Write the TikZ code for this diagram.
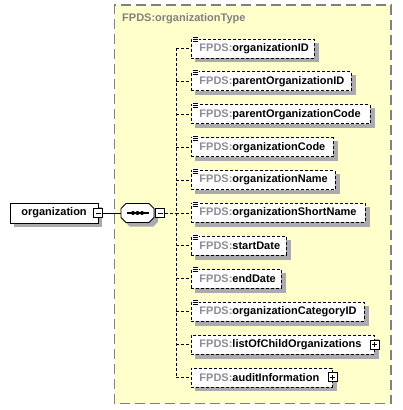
\documentclass[tikz,border=0pt]{standalone}
\usepackage{fontspec}
\setmainfont{Liberation Sans}
\usetikzlibrary{positioning}

\definecolor{typefill}{RGB}{255,255,204}
\definecolor{typeborder}{RGB}{128,128,128}
\definecolor{prefixgray}{RGB}{140,140,150}
\definecolor{shadowgray}{RGB}{170,170,175}

\newcommand{\fp}{\textcolor{prefixgray}{FPDS:}}

\pgfdeclarelayer{back}
\pgfdeclarelayer{shade}
\pgfsetlayers{back,shade,main}

\tikzset{
  typebox/.style={draw=typeborder, fill=typefill, line width=1.5pt, dash pattern=on 10pt off 5pt},
  elembox/.style={draw, line width=0.9pt, dash pattern=on 3pt off 2pt, fill=white, anchor=west,
    minimum height=19pt, inner xsep=0pt, inner ysep=0pt, text width=#1, align=left},
  rootbox/.style={draw, line width=0.9pt, fill=white, minimum width=88pt, minimum height=20pt,
    inner sep=0pt},
  seqbox/.style={minimum width=33pt, minimum height=19pt, inner sep=0pt},
  toggle/.style={draw, line width=1pt, fill=white, minimum size=9pt, inner sep=0pt},
  minusbox/.style={toggle, path picture={
    \draw[line width=0.9pt] ([xshift=2pt]path picture bounding box.west) -- ([xshift=-2pt]path picture bounding box.east);}},
  plusbox/.style={toggle, path picture={
    \draw[line width=0.9pt] ([xshift=2pt]path picture bounding box.west) -- ([xshift=-2pt]path picture bounding box.east);
    \draw[line width=0.9pt] ([yshift=-2pt]path picture bounding box.north) -- ([yshift=2pt]path picture bounding box.south);}},
  conn/.style={line width=0.9pt, dash pattern=on 3pt off 2pt},
  boxshade/.style={fill=shadowgray},
}

\begin{document}
\begin{tikzpicture}[x=1pt, y=1pt, font=\fontsize{11}{13}\selectfont\bfseries]
\useasboundingbox (0,0) rectangle (402,410);

% complex type container
\begin{pgfonlayer}{back}
  \draw[typebox] (114.7,6.3) rectangle (391,405);
\end{pgfonlayer}
\node[anchor=west, text=typeborder, inner sep=0pt] (title) at (122,391) {FPDS:organizationType};

% root element
\node[rootbox] (org) at (54,197) {organization};
\node[minusbox] (orgminus) at (org.east) {};

% sequence compositor
\node[seqbox] (seq) at (137.5,197) {};
\draw[line width=0.9pt, fill=white] (126,206.5) -- (149,206.5) -- (154,201.5) -- (154,192.5)
  -- (149,187.5) -- (126,187.5) -- (121,192.5) -- (121,201.5) -- cycle;
\draw[line width=1.2pt] ([xshift=-11pt]seq.center) -- ([xshift=11pt]seq.center);
\foreach \dx in {-4.5,0,4.5}
  \fill ([xshift=\dx pt]seq.center) circle (2pt);
\node[minusbox, right=1pt of seq] (seqminus) {};
\coordinate (bus) at (176,197);

\draw[line width=0.9pt] (orgminus.east) -- (seq.west);
\draw[conn] (seqminus.east) -- (bus);

% simple child elements
\foreach \elname/\w [count=\i] in {organizationID/123, parentOrganizationID/160,
    parentOrganizationCode/179, organizationCode/142, organizationName/144,
    organizationShortName/174, startDate/95, endDate/90, organizationCategoryID/173}{
  \node[elembox=\w pt] (\elname) at (191,{361.5-32.9*(\i-1)}) {\mbox{\hspace{8pt}\fp\elname}};
  \fill[white] ([shift={(1pt,2pt)}]\elname.north west) rectangle ++(6.5pt,-7pt);
  \foreach \d in {1,-1,-3}
    \draw[line width=0.7pt] ([shift={(1.5pt,\d pt)}]\elname.north west) -- ++(5pt,0);
  \draw[conn] (bus |- \elname.west) -- (\elname.west);
}

% complex child elements
\node[elembox=183pt] (listOfChildOrganizations) at (191,{361.5-32.9*9})
  {\mbox{\hspace{8pt}\fp listOfChildOrganizations}};
\node[plusbox] (listplus) at (listOfChildOrganizations.east) {};
\node[elembox=141pt] (auditInformation) at (191,{361.5-32.9*10})
  {\mbox{\hspace{8pt}\fp auditInformation}};
\node[plusbox] (auditplus) at (auditInformation.east) {};

\draw[conn] (bus |- listOfChildOrganizations.west) -- (listOfChildOrganizations.west);
\draw[conn] (bus |- auditInformation.west) -- (auditInformation.west);
\draw[conn] (bus |- organizationID.west) -- (bus |- auditInformation.west);

% shadows
\begin{pgfonlayer}{shade}
  \foreach \nm in {org, organizationID, parentOrganizationID, parentOrganizationCode,
      organizationCode, organizationName, organizationShortName, startDate, endDate,
      organizationCategoryID, listOfChildOrganizations, auditInformation}
    \fill[boxshade] ([xshift=4pt,yshift=-4pt]\nm.south west) rectangle ([xshift=4pt,yshift=-4pt]\nm.north east);
  \fill[boxshade] ([xshift=9pt,yshift=-4pt]seq.north west) -- ([xshift=-1pt,yshift=-4pt]seq.north east)
    -- ([xshift=4pt,yshift=-9pt]seq.north east) -- ([xshift=4pt,yshift=1pt]seq.south east)
    -- ([xshift=-1pt,yshift=-4pt]seq.south east) -- ([xshift=9pt,yshift=-4pt]seq.south west)
    -- ([xshift=4pt,yshift=1pt]seq.south west) -- ([xshift=4pt,yshift=-9pt]seq.north west) -- cycle;
\end{pgfonlayer}
\end{tikzpicture}
\end{document}
